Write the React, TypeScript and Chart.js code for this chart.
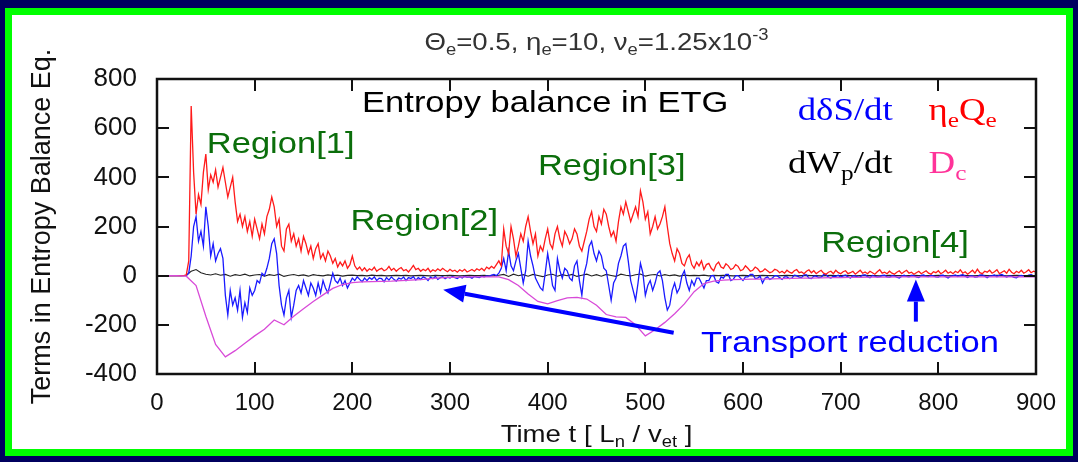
import React, { useEffect, useRef } from "react";
import { Chart, registerables } from "chart.js";

Chart.register(...registerables);

// ---------------- DATA ----------------
// sampling step (time units) of the red and blue series
const TIME_STEP = 2.5;
// sampling step of the black dW_p/dt series
const W_TIME_STEP = 5;
// sampling step of the smooth Dc curve
const DC_TIME_STEP = 10;

// eta_e Q_e  (red), t = 0, 2.5, 5, ..., 900  (8 values = 20 time units per row)
const etaQ = [
  0, 0, 0, 0, 0, 0, 0, 0,
  0, 0, 0, 0, 3, 60, 690, 420,
  250, 330, 290, 420, 495, 350, 410, 380,
  430, 360, 400, 440, 380, 320, 360, 400,
  300, 220, 250, 200, 240, 180, 220, 160,
  230, 190, 150, 210, 170, 240, 270, 320,
  280, 200, 230, 120, 100, 190, 210, 140,
  170, 120, 150, 100, 160, 130, 90, 120,
  70, 110, 130, 70, 90, 60, 100, 80,
  50, 70, 35, 55, 40, 60, 30, 45,
  80, 40, 25, 35, 20, 32, 18, 28,
  22, 35, 18, 26, 30, 20, 25, 38,
  22, 30, 18, 27, 33, 20, 25, 15,
  28, 42, 25, 30, 18, 26, 20, 30,
  15, 24, 18, 28, 20, 30, 22, 16,
  26, 18, 22, 14, 24, 18, 26, 15,
  20, 25, 18, 28, 22, 30, 20, 35,
  28, 38, 30, 45, 60, 40, 190, 120,
  90, 200, 150, 80, 120, 170, 140, 200,
  240, 180, 130, 170, 80, 120, 100, 150,
  190, 130, 110, 170, 200, 150, 120, 180,
  160, 130, 150, 190, 170, 120, 100, 140,
  180, 230, 260, 200, 180, 240, 210, 270,
  250, 200, 160, 180, 140, 220, 280, 250,
  300, 260, 220, 250, 280, 240, 345, 300,
  230, 260, 170, 200, 240, 190, 210, 240,
  280, 200, 130, 90, 60, 110, 90, 50,
  40, 70, 85, 45, 30, 55, 40, 60,
  25, 45, 50, 30, 20, 45, 55, 35,
  30, 48, 40, 25, 30, 45, 38, 20,
  25, 40, 30, 18, 22, 35, 28, 15,
  18, 28, 20, 12, 16, 26, 22, 12,
  18, 10, 22, 14, 10, 20, 25, 12,
  15, 8, 18, 24, 12, 20, 8, 16,
  22, 10, 6, 14, 18, 8, 22, 12,
  8, 16, 20, 8, 12, 18, 6, 14,
  22, 10, 15, 8, 18, 12, 6, 16,
  24, 10, 14, 8, 18, 10, 6, 14,
  20, 8, 16, 22, 10, 14, 6, 12,
  18, 8, 14, 20, 10, 6, 16, 12,
  20, 8, 14, 22, 10, 16, 8, 18,
  12, 24, 10, 16, 6, 14, 22, 10,
  26, 12, 8, 18, 14, 22, 10, 16,
  24, 8, 14, 20, 10, 26, 14, 8,
  18, 12, 22, 10, 16, 24, 12, 18,
  14,
];

// d(deltaS)/dt (blue), t = 0, 2.5, ..., 900
const dSdt = [
  0, 0, 0, 0, 0, 0, 0, 0,
  0, 0, 0, 0, 0, 10, 80, 200,
  240, 140, 180, 120, 280, 200, 80, 130,
  60, 90, 110, 70, -80, -160, -60, -120,
  -90, -140, -60, -170, -110, -150, -50, -80,
  -60, -20, -30, 10, 0, 30, 70, 130,
  150, 90, -40, -120, -160, -90, -60, -170,
  -120, -60, -40, -70, -20, -50, -80, -30,
  -50, -80, -30, -70, -20, -50, -70, -30,
  10, -20, -30, -10, -40, -20, -50, -30,
  -10, -20, -5, -15, -25, -10, -20, -8,
  -15, -5, -20, -10, -12, -25, -8, -18,
  -5, -15, -22, -10, -14, -5, -20, -8,
  -12, -4, -18, -8, -15, -5, -10, -20,
  -6, -12, -3, -15, -8, -4, -12, -6,
  -10, -3, -8, -12, -4, -9, -2, -7,
  -5, -10, -3, -6, -8, -2, -5, -1,
  -3, 2, 5, 0, 10, 30, 70, 20,
  100, 40, 20, 60, 90, 30, -30, 20,
  140, 80, 40, -10, -30, -50, -60, 10,
  90, 30, -40, -60, 70, 20, -10, 30,
  20, -10, -20, 40, 60, -20, -80, 10,
  50, 120, 140, 90, 60, 100, 80, 30,
  20, -40, -100, -30, -10, 50, 80, 120,
  130, 60, -20, -60, -100, -30, 50, 10,
  -80, -40, -20, -60, -30, 10, 20, -20,
  -90, -140, -120, -60, -30, -70, -50, 0,
  20, -30, -60, -20, -40, -10, -10, -30,
  -50, -20, -20, 0, 0, -25, -30, -5,
  -10, 5, 5, -20, -15, 0, 0, -10,
  -20, -5, -5, 5, 5, -12, -10, -2,
  -30, -10, -5, -15, -10, 0, 0, -8,
  -15, -5, -5, -12, -10, 2, 0, -6,
  -8, 3, 3, -10, -12, -2, -2, -8,
  -6, 4, 4, -6, -10, -2, -3, 2,
  -6, -1, 2, -5, -9, 0, -1, -6,
  -5, 2, 3, -4, -8, 1, -2, -6,
  -4, 1, 2, -5, -7, 0, -1, -6,
  -10, -2, 2, -3, -5, 1, 0, -5,
  -8, 1, 3, -3, -4, 2, -1, -5,
  -6, 1, 2, -4, -9, -2, 0, 3,
  -3, 1, 4, -2, -7, -1, -1, -6,
  -5, 2, 3, -2, -8, -1, 0, 3,
  -4, 2, 5, -1, -6, -1, -2, -7,
  -9, -2, 1, -3, -3, 2, 4, -1,
  -5,
];

// dW_p/dt (black), t = 0,5,...,900
const dWdt = [
  0, 0, 0, 0, 0, 0, 2, 18, 25, 12,
  6, 3, 8, 2, 5, -2, 4, 1, 6, -1,
  3, 5, -2, 4, 1, 6, -3, 2, 5, 0,
  3, -2, 4, 1, -1, 3, 0, 2, -2, 1,
  2, 0, 1, -1, 2, 0, 1, -1, 0, 1,
  0, 1, -1, 0, 1, 0, -1, 1, 0, 0,
  1, 0, -1, 0, 1, 0, 0, 1, -1, 0,
  2, 5, -3, 6, 0, 4, -2, 5, 1, -4,
  3, 6, -2, 4, 0, 5, -3, 2, 6, -1,
  4, -2, 5, 1, -3, 6, 2, -1, 4, 7,
  -2, 3, 5, -1, 4, 0, 3, -2, 2, 0,
  1, 0, 2, -1, 1, 0, 1, 0, -1, 0,
  1, 0, -1, 0, 1, 0, 0, -1, 0, 1,
  0, -1, 0, 1, 0, 0, -1, 0, 1, 0,
  0, 1, 0, -1, 0, 1, 0, 0, -1, 0,
  1, 0, 0, -1, 0, 1, 0, -1, 0, 0,
  1, 0, -1, 0, 0, 1, 0, -1, 0, 1,
  0, 0, 1, 0, -1, 0, 1, 0, 0, -1,
  0,
];

// D_c (magenta), t = 0,10,...,900
const Dc = [
  0, 0, 0, -2, -40, -165, -280, -330, -305, -275,
  -245, -218, -180, -200, -165, -135, -105, -78, -52, -36,
  -28, -25, -24, -23, -22, -20, -18, -16, -12, -9,
  -7, -6, -5, -5, -5, -5, -16, -40, -75, -105,
  -115, -102, -90, -88, -95, -120, -158, -168, -170, -200,
  -245, -220, -190, -155, -115, -65, -32, -22, -18, -16,
  -15, -14, -14, -13, -12, -11, -10, -10, -9, -8,
  -8, -7, -7, -6, -6, -6, -5, -5, -5, -5,
  -5, -5, -5, -5, -5, -5, -5, -5, -5, -5,
  -5,
];

const X_MIN = 0;
const X_MAX = 900;
const X_STEP = 100;
const Y_MIN = -400;
const Y_MAX = 800;
const Y_STEP = 200;

// ---------------- TEXT / ANNOTATIONS ----------------
type Run = { t: string; sub?: boolean; sup?: boolean };

const TITLE_RUNS: Run[] = [
  { t: "\u0398" }, { t: "e", sub: true }, { t: "=0.5, \u03b7" }, { t: "e", sub: true },
  { t: "=10, \u03bd" }, { t: "e", sub: true }, { t: "=1.25x10" }, { t: "-3", sup: true },
];
const XTITLE_RUNS: Run[] = [
  { t: "Time t [ L" }, { t: "n", sub: true }, { t: " / v" }, { t: "et", sub: true }, { t: " ]" },
];
const Y_TITLE = "Terms in Entropy Balance Eq.";

const SANS = "'Liberation Sans', Arial, Helvetica, sans-serif";
const SERIF = "'Liberation Serif', 'Times New Roman', serif";
const GREEN = "#0b6e0b";

type Label = { runs: Run[]; x: number; y: number; size: number; family: string; color: string };
const LABELS: Label[] = [
  { runs: [{ t: "Entropy balance in ETG" }], x: 210, y: 667, size: 30, family: SANS, color: "#000" },
  { runs: [{ t: "d\u03b4S/dt" }], x: 656, y: 635, size: 32, family: SERIF, color: "#0000ff" },
  { runs: [{ t: "\u03b7" }, { t: "e", sub: true }, { t: "Q" }, { t: "e", sub: true }], x: 790, y: 635, size: 32, family: SERIF, color: "#ff0000" },
  { runs: [{ t: "dW" }, { t: "p", sub: true }, { t: "/dt" }], x: 646, y: 419, size: 32, family: SERIF, color: "#000" },
  { runs: [{ t: "D" }, { t: "c", sub: true }], x: 790, y: 419, size: 32, family: SERIF, color: "#ff3399" },
  { runs: [{ t: "Region[1]" }], x: 51, y: 500, size: 30, family: SANS, color: GREEN },
  { runs: [{ t: "Region[2]" }], x: 198, y: 187, size: 30, family: SANS, color: GREEN },
  { runs: [{ t: "Region[3]" }], x: 390, y: 411, size: 30, family: SANS, color: GREEN },
  { runs: [{ t: "Region[4]" }], x: 680, y: 98, size: 30, family: SANS, color: GREEN },
  { runs: [{ t: "Transport reduction" }], x: 557, y: -309, size: 30, family: SANS, color: "#0000ff" },
];

// arrows: from (x0,y0) to tip (x1,y1) in data units
const ARROWS = [
  { x0: 529, y0: -232, x1: 293, y1: -57 },
  { x0: 777, y0: -187, x1: 777, y1: -16 },
];

const TEXT_SX = 1.15;

function drawRich(ctx: CanvasRenderingContext2D, runs: Run[], x: number, y: number, size: number,
  family: string, color: string, align: "left" | "center", sx: number) {
  const fontFor = (r: Run) => `${r.sub || r.sup ? Math.round(size * 0.68) : size}px ${family}`;
  let w = 0;
  for (const r of runs) { ctx.font = fontFor(r); w += ctx.measureText(r.t).width; }
  ctx.save();
  ctx.translate(x, y);
  ctx.scale(sx, 1);
  ctx.fillStyle = color;
  ctx.textAlign = "left";
  ctx.textBaseline = "alphabetic";
  let cx = align === "center" ? -w / 2 : 0;
  for (const r of runs) {
    ctx.font = fontFor(r);
    const dy = r.sub ? size * 0.22 : r.sup ? -size * 0.42 : 0;
    ctx.fillText(r.t, cx, dy);
    cx += ctx.measureText(r.t).width;
  }
  ctx.restore();
}

const decorPlugin = {
  id: "decor",
  afterDraw(chart: any) {
    const ctx: CanvasRenderingContext2D = chart.ctx;
    const a = chart.chartArea;
    const xs = chart.scales.x, ys = chart.scales.y;
    ctx.save();
    ctx.setLineDash([]);
    ctx.globalAlpha = 1;
    // frame
    ctx.strokeStyle = "#111111";
    ctx.lineWidth = 2.5;
    ctx.beginPath();
    ctx.rect(a.left, a.top, a.right - a.left, a.bottom - a.top);
    ctx.stroke();
    // inward ticks on all 4 sides
    const TL = 12;
    ctx.lineWidth = 2;
    ctx.beginPath();
    for (const t of xs.ticks) {
      if (t.value <= X_MIN || t.value >= X_MAX) continue;
      const px = Math.round(xs.getPixelForValue(t.value));
      ctx.moveTo(px, a.bottom); ctx.lineTo(px, a.bottom - TL);
      ctx.moveTo(px, a.top); ctx.lineTo(px, a.top + TL);
    }
    for (const t of ys.ticks) {
      if (t.value <= Y_MIN || t.value >= Y_MAX) continue;
      const py = Math.round(ys.getPixelForValue(t.value));
      ctx.moveTo(a.left, py); ctx.lineTo(a.left + TL, py);
      ctx.moveTo(a.right, py); ctx.lineTo(a.right - TL, py);
    }
    ctx.stroke();

    // title and x-axis title
    const cx = (a.left + a.right) / 2;
    drawRich(ctx, TITLE_RUNS, cx, a.top - 29, 24, SANS, "#333", "center", TEXT_SX);
    drawRich(ctx, XTITLE_RUNS, cx, a.bottom + 68, 24, SANS, "#111", "center", TEXT_SX);

    // labels
    for (const l of LABELS) {
      drawRich(ctx, l.runs, xs.getPixelForValue(l.x), ys.getPixelForValue(l.y), l.size, l.family, l.color, "left", TEXT_SX);
    }

    // arrows
    ctx.strokeStyle = "#0000ff";
    ctx.fillStyle = "#0000ff";
    ctx.lineWidth = 4;
    for (const ar of ARROWS) {
      const x0 = xs.getPixelForValue(ar.x0), y0 = ys.getPixelForValue(ar.y0);
      const x1 = xs.getPixelForValue(ar.x1), y1 = ys.getPixelForValue(ar.y1);
      const ang = Math.atan2(y1 - y0, x1 - x0);
      const HL = 22, HW = 9;
      const bx = x1 - HL * Math.cos(ang), by = y1 - HL * Math.sin(ang);
      ctx.beginPath();
      ctx.moveTo(x0, y0); ctx.lineTo(bx, by);
      ctx.stroke();
      ctx.beginPath();
      ctx.moveTo(x1, y1);
      ctx.lineTo(bx + HW * Math.sin(ang), by - HW * Math.cos(ang));
      ctx.lineTo(bx - HW * Math.sin(ang), by + HW * Math.cos(ang));
      ctx.closePath();
      ctx.fill();
    }
    ctx.restore();
  },
};

function toPoints(values: number[], step: number) {
  return values.map((v, i) => ({ x: i * step, y: v }));
}

export default function App() {
  const ref = useRef<HTMLCanvasElement | null>(null);
  useEffect(() => {
    if (!ref.current) return;
    const line = (label: string, data: any[], color: string, w: number) => ({
      label, data, borderColor: color, borderWidth: w, pointRadius: 0, tension: 0, fill: false,
    });
    const chart = new Chart(ref.current, {
      type: "line",
      data: {
        datasets: [
          line("Dc", toPoints(Dc, DC_TIME_STEP), "#d84ad8", 1.3),
          line("etaQ", toPoints(etaQ, TIME_STEP), "#ff1a1a", 1.3),
          line("dSdt", toPoints(dSdt, TIME_STEP), "#1a1aff", 1.3),
          line("dWdt", toPoints(dWdt, W_TIME_STEP), "#222", 1.1),
        ],
      },
      options: {
        animation: false,
        responsive: false,
        devicePixelRatio: 1,
        layout: { padding: { left: 0, right: 42, top: 79, bottom: 0 } },
        plugins: { legend: { display: false }, tooltip: { enabled: false }, title: { display: false } },
        scales: {
          x: {
            type: "linear", min: X_MIN, max: X_MAX,
            grid: { display: false, drawTicks: false },
            border: { display: false },
            ticks: {
              stepSize: X_STEP, padding: 15, color: "#111", maxRotation: 0,
              font: { family: "'Liberation Sans Narrow', 'Arial Narrow', " + SANS, size: 24 },
            },
            afterFit: (s: any) => { s.height = 88; },
          },
          y: {
            min: Y_MIN, max: Y_MAX,
            grid: { display: false, drawTicks: false },
            border: { display: false },
            ticks: { stepSize: Y_STEP, padding: 20, color: "#111", font: { family: SANS, size: 26 } },
            title: {
              display: true, text: Y_TITLE, color: "#111",
              font: { family: SANS, size: 27 }, padding: { top: 26, bottom: 0 },
            },
            afterFit: (s: any) => { s.width = 157; },
          },
        },
      },
      plugins: [decorPlugin],
    });
    return () => chart.destroy();
  }, []);

  return (
    <div style={{ position: "fixed", left: 0, top: 0, width: 1078, height: 462, background: "#00005f", overflow: "hidden" }}>
      <div style={{ position: "absolute", left: 5, top: 8, right: 5, bottom: 6, border: "7px solid #00ff00", background: "#fff", boxSizing: "border-box" }} />
      <canvas ref={ref} width={1078} height={462} style={{ position: "absolute", left: 0, top: 0, width: 1078, height: 462 }} />
    </div>
  );
}
